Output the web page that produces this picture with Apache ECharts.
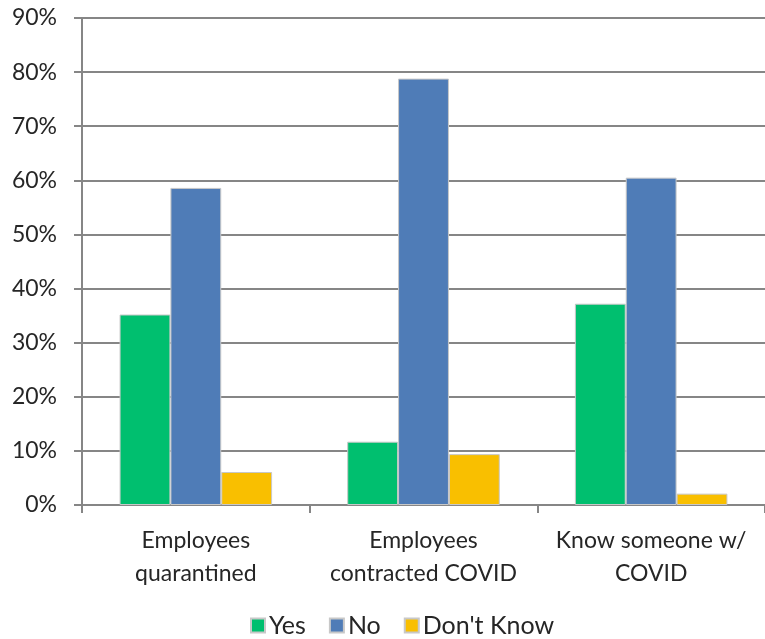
<!DOCTYPE html>
<html><head><meta charset="utf-8">
<script src="https://cdn.jsdelivr.net/npm/echarts@6/dist/echarts.min.js"></script>
<style>html,body{margin:0;padding:0;background:#fff}#c{width:765px;height:639px}</style>
</head><body><div id="c"></div>
<script>
var categories = ['Employees\nquarantined', 'Employees\ncontracted COVID', 'Know someone w/\nCOVID'];
var yesValues = [35.2, 11.7, 37.2];
var noValues = [58.6, 78.8, 60.5];
var dontKnowValues = [6.1, 9.4, 2.1];
var seriesNames = ['Yes', 'No', "Don't Know"];
var yTicks = [0, 10, 20, 30, 40, 50, 60, 70, 80, 90];

var FONT = 'Lato';
var TXT = '#262626';
var chart = echarts.init(document.getElementById('c'), null, {renderer: 'canvas'});
var colors = ['#00bf6f', '#4f7cb7', '#f9bf00'];
function mk(name, data, color) {
  return {
    name: name, type: 'bar', data: data, barGap: '0%', barCategoryGap: '33%',
    itemStyle: {color: color, borderColor: '#c8c8c8', borderWidth: 1},
    emphasis: {disabled: true}
  };
}
chart.setOption({
  animation: false,
  grid: {left: 82, right: 0, top: 18, bottom: 134, containLabel: false},
  legend: {
    top: 613, left: 250, itemWidth: 14, itemHeight: 14, itemGap: 23,
    icon: 'rect', padding: 0,
    textStyle: {fontFamily: FONT, fontSize: 25, color: TXT, padding: [0, 0, 0, -1]},
    data: seriesNames
  },
  xAxis: {
    type: 'category', data: categories,
    axisLine: {lineStyle: {color: '#868686', width: 2}},
    axisTick: {show: true, length: 8, alignWithLabel: false, lineStyle: {color: '#868686', width: 2}},
    axisLabel: {fontFamily: FONT, fontSize: 23, color: TXT, lineHeight: 33, margin: 19, interval: 0}
  },
  yAxis: {
    type: 'value', min: 0, max: 90, interval: 10,
    axisLine: {show: true, lineStyle: {color: '#868686', width: 2}},
    axisTick: {show: true, length: 8, lineStyle: {color: '#868686', width: 2}},
    splitLine: {lineStyle: {color: '#868686', width: 2}},
    axisLabel: {fontFamily: FONT, fontSize: 23, color: TXT, margin: 25,
      formatter: function (v) { return yTicks.indexOf(v) >= 0 ? v + '%' : ''; }}
  },
  series: [
    mk(seriesNames[0], yesValues, colors[0]),
    mk(seriesNames[1], noValues, colors[1]),
    mk(seriesNames[2], dontKnowValues, colors[2])
  ]
});
</script></body></html>
